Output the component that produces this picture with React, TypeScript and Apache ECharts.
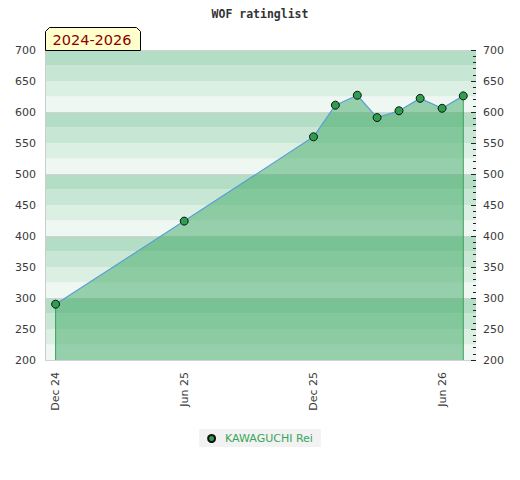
import React, { useEffect, useRef } from "react";
import * as echarts from "echarts";

const dates = [
  "2024-12-01", "2025-06-01", "2025-12-01", "2026-01-01", "2026-02-01",
  "2026-03-01", "2026-04-01", "2026-05-01", "2026-06-01", "2026-07-01",
];
const ratings = [290, 424, 560, 611, 627, 591, 602, 622, 606, 626];
const tickDates = ["2024-12-01", "2025-06-01", "2025-12-01", "2026-06-01"];
const tickLabels = ["Dec 24", "Jun 25", "Dec 25", "Jun 26"];
const seriesName = "KAWAGUCHI Rei";
const titleText = "WOF ratinglist";
const periodText = "2024-2026";
const yMin = 200;
const yMax = 700;
const xMinDate = "2024-11-16";
const xMaxDate = "2026-07-19";

const bandColors = ["#eff7f2", "#dcefe3", "#c8e6d4", "#b3ddc4"];

function ts(s: string): number {
  const [y, m, d] = s.split("-").map(Number);
  return Date.UTC(y, m - 1, d);
}

export default function App() {
  const ref = useRef<HTMLDivElement>(null);
  useEffect(() => {
    document.body.style.margin = "0";
    const chart = echarts.init(ref.current!, null, { renderer: "svg" });
    const tickTs = tickDates.map(ts);
    const points = dates.map((d, i) => [ts(d), ratings[i]]);
    const first = points[0];
    const last = points[points.length - 1];
    const font = "DejaVu Sans";
    const hiddenAxis = {
      type: "value",
      min: yMin,
      max: yMax,
      position: "left",
      axisLine: { show: false },
      axisTick: { show: false },
      axisLabel: { show: false },
    };
    const edgeSeries = (p: number[]) => ({
      name: "edge",
      type: "line",
      yAxisIndex: 2,
      data: [[p[0], p[1]], [p[0], yMin]],
      symbol: "none",
      silent: true,
      lineStyle: { color: "#3aa35a", width: 1 },
      z: 2,
    });
    chart.setOption({
      animation: false,
      title: {
        text: titleText,
        left: "center",
        top: 3,
        textStyle: {
          fontFamily: "DejaVu Sans Mono",
          fontWeight: "bold",
          fontSize: 11.5,
          color: "#333",
        },
      },
      grid: { left: 45, right: 44, top: 50, bottom: 120, outerBoundsMode: "none" },
      legend: {
        bottom: 33,
        left: "center",
        backgroundColor: "#f2f2f2",
        padding: [4, 8, 3, 8],
        icon: "circle",
        itemWidth: 7,
        itemHeight: 7,
        textStyle: { color: "#3aa55a", fontSize: 11, fontFamily: font, padding: [0, 0, 0, 5] },
        data: [seriesName],
      },
      xAxis: {
        type: "value",
        min: ts(xMinDate),
        max: ts(xMaxDate),
        axisLine: { show: false },
        axisTick: { show: false },
        splitLine: { show: false },
        axisLabel: {
          customValues: tickTs,
          rotate: 90,
          margin: 12,
          fontSize: 11,
          fontFamily: font,
          color: "#3a3a3a",
          formatter: (v: number) => {
            const i = tickTs.indexOf(v);
            return i >= 0 ? tickLabels[i] : "";
          },
        },
      },
      yAxis: [
        {
          ...hiddenAxis,
          interval: 25,
          splitLine: { show: false },
          splitArea: { show: true, areaStyle: { color: bandColors, opacity: 1 } },
        },
        {
          ...hiddenAxis,
          interval: 100,
          splitLine: { show: true, lineStyle: { color: "#d2d2d2", width: 1 } },
        },
        {
          type: "value",
          min: yMin,
          max: yMax,
          interval: 50,
          position: "left",
          axisLine: { show: true, lineStyle: { color: "#cccccc" } },
          axisTick: { show: false },
          splitLine: { show: false },
          axisLabel: { fontSize: 11, fontFamily: font, color: "#3a3a3a", margin: 9 },
        },
        {
          type: "value",
          min: yMin,
          max: yMax,
          interval: 50,
          position: "right",
          axisLine: { show: false },
          axisTick: { show: true, inside: true, length: 5, lineStyle: { color: "#222" } },
          minorTick: { show: true, splitNumber: 5, length: 3, lineStyle: { color: "#222" } },
          splitLine: { show: false },
          minorSplitLine: { show: false },
          axisLabel: { fontSize: 11, fontFamily: font, color: "#3a3a3a", margin: 7 },
        },
      ],
      graphic: [
        {
          type: "polygon",
          shape: {
            points: [
              [45.5, 50.5], [45.5, 31.5], [49.5, 27.5],
              [136.5, 27.5], [140.5, 31.5], [140.5, 50.5],
            ],
          },
          style: { fill: "#ffffcc", stroke: "#000", lineWidth: 1 },
          z: 10,
        },
        {
          type: "text",
          x: 92,
          y: 40,
          style: {
            text: periodText,
            fill: "#8b0000",
            font: `14.5px "${font}"`,
            textAlign: "center",
            textVerticalAlign: "middle",
          },
          z: 11,
        },
      ],
      series: [
        edgeSeries(first),
        edgeSeries(last),
        {
          name: seriesName,
          type: "line",
          yAxisIndex: 2,
          data: points,
          symbol: "circle",
          symbolSize: 8,
          lineStyle: { color: "#5b9fd6", width: 1.2 },
          itemStyle: { color: "#2e9e4f", borderColor: "#111", borderWidth: 1 },
          areaStyle: { color: "rgba(62,168,100,0.5)", opacity: 1, origin: "start" },
          z: 3,
        },
      ],
    });
    return () => chart.dispose();
  }, []);
  return <div ref={ref} style={{ width: 520, height: 480 }} />;
}
